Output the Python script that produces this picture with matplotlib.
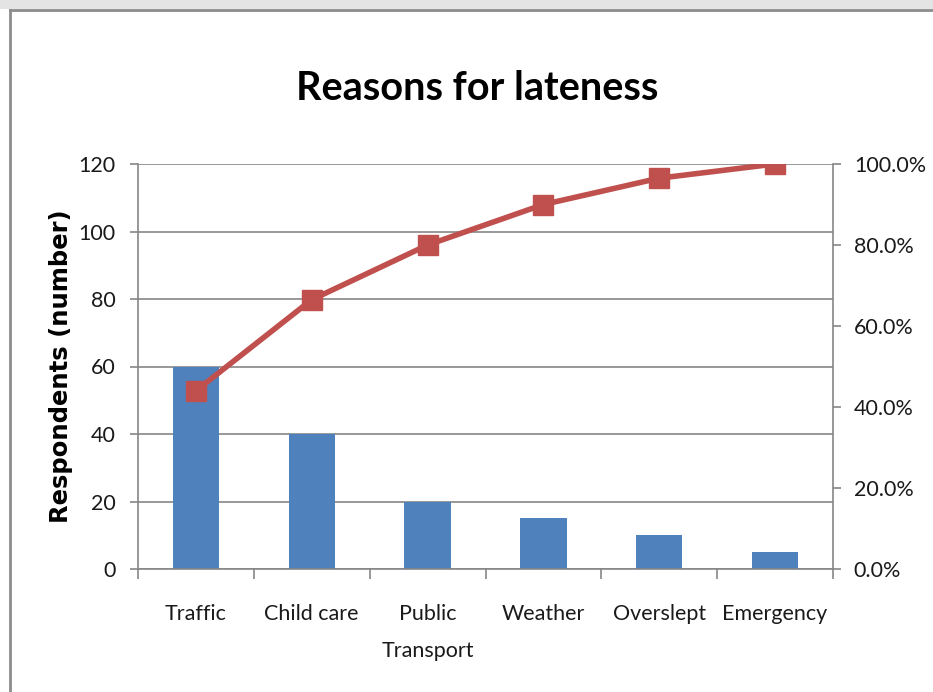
import numpy as np
import matplotlib.pyplot as plt
from matplotlib.patches import Rectangle
from matplotlib.lines import Line2D
from matplotlib.ticker import FuncFormatter

# reasons and number of respondents
reasons = ['Traffic', 'Child care', 'Public\nTransport', 'Weather', 'Overslept', 'Emergency']
respondents = [60, 40, 20, 15, 10, 5]
# cumulative share, as plotted on the right axis
cumulative_pct = [44.0, 66.5, 80.0, 90.0, 96.5, 100.0]

plt.rcParams['font.family'] = ['Lato', 'DejaVu Sans']

bar_col = '#4F81BD'
line_col = '#C0504D'
axis_col = '#868686'
txt_col = '#1a1a1a'

fig = plt.figure(figsize=(9.33, 6.92), dpi=100)
fig.patch.set_facecolor('white')

# grey strip and border along the top and left
fig.patches.append(Rectangle((0, 1 - 9 / 692), 1, 9 / 692, transform=fig.transFigure,
                             facecolor='#e4e4e4', edgecolor='none', zorder=0))
fig.lines.append(Line2D([10 / 933, 1], [1 - 10 / 692] * 2, transform=fig.transFigure,
                        color='#8c8c8c', lw=2))
fig.lines.append(Line2D([10 / 933] * 2, [0, 1 - 10 / 692], transform=fig.transFigure,
                        color='#8c8c8c', lw=2))

ax = fig.add_axes([138 / 933, 1 - 569 / 692, 695 / 933, 405 / 692])
x = np.arange(len(reasons))

ax.bar(x, respondents, width=0.4, color=bar_col, zorder=2)
ax.set_xlim(-0.5, len(reasons) - 0.5)
ax.set_ylim(0, 120)
ax.set_yticks(range(0, 121, 20))
ax.yaxis.grid(True, color=axis_col, lw=1.2, zorder=0)
ax.set_axisbelow(True)

for s in ['top', 'right']:
    ax.spines[s].set_visible(False)
for s in ['left', 'bottom']:
    ax.spines[s].set_color(axis_col)
    ax.spines[s].set_linewidth(1.2)

ax.set_xticks(x)
ax.set_xticklabels(reasons, fontsize=15.5, color=txt_col, linespacing=2.05)
ax.tick_params(axis='x', which='major', length=0, pad=25)
ax.set_xticks(np.arange(-0.5, len(reasons), 1), minor=True)
ax.tick_params(axis='x', which='minor', length=7, color=axis_col, width=1.2)
ax.tick_params(axis='y', length=6, color=axis_col, width=1.2, labelsize=15.5,
               labelcolor=txt_col, pad=10)
ax.set_ylabel('Respondents (number)', fontsize=17.5, fontweight='bold',
              family='DejaVu Sans')
ax.yaxis.set_label_coords(-0.093, 0.5)

ax2 = ax.twinx()
ax2.plot(x, cumulative_pct, color=line_col, lw=4, marker='s', markersize=14,
         markerfacecolor=line_col, markeredgecolor=line_col, zorder=3)
ax2.set_ylim(0, 100)
ax2.set_yticks(range(0, 101, 20))
ax2.yaxis.set_major_formatter(FuncFormatter(lambda v, p: f'{v:.1f}%'))
ax2.tick_params(axis='y', length=6, color=axis_col, width=1.2, labelsize=15.5,
                labelcolor=txt_col, pad=9)
for s in ['top', 'left', 'bottom']:
    ax2.spines[s].set_visible(False)
ax2.spines['right'].set_color(axis_col)
ax2.spines['right'].set_linewidth(1.2)

fig.text(0.511, 1 - 88 / 692, 'Reasons for lateness', ha='center', va='center',
         fontsize=28.5, fontweight='bold', color='black')

fig.savefig('out.png', dpi=100)
